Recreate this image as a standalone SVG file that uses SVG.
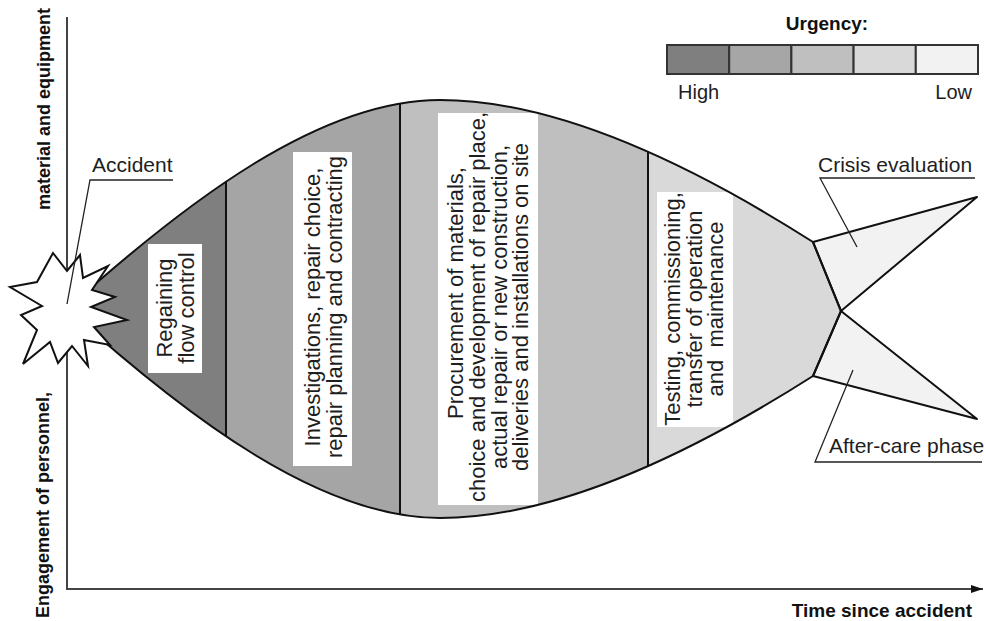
<svg xmlns="http://www.w3.org/2000/svg" width="986" height="621" viewBox="0 0 986 621">
<style>
.lbl{font-family:"Liberation Sans",Arial,sans-serif;font-size:21px;fill:#1e1e1e}
.bt{font-family:"Liberation Sans",Arial,sans-serif;font-size:22px;fill:#1e1e1e;text-anchor:middle}
.bold{font-family:"Liberation Sans",Arial,sans-serif;font-weight:bold;fill:#111}
.outline{fill:none;stroke:#111;stroke-width:2;stroke-linejoin:round}
.fin{fill:#f2f2f2;stroke:#111;stroke-width:2;stroke-linejoin:round}
.div{stroke:#111;stroke-width:2}
.leader{fill:none;stroke:#222;stroke-width:1.3}
.axis{stroke:#444;stroke-width:2;fill:none}
.box{fill:#fff}
.leg{stroke:#333;stroke-width:2}
</style>
<defs>
<path id="bodyShape" d="M67,309 C187,201 320,100 440,100 C560,100 700,170 813,242 L841,311 L813,376 C700,448 560,518 440,518 C320,518 187,417 67,309 Z"/>
<clipPath id="bodyClip"><use href="#bodyShape"/></clipPath>
<marker id="arrow" markerWidth="12" markerHeight="8" refX="12" refY="4" orient="auto" markerUnits="userSpaceOnUse"><path d="M0,0 L12,4 L0,8 Z" fill="#111"/></marker>
</defs>

<g id="axes">
<path class="axis" d="M67,17 V589 H983" marker-end="url(#arrow)"/>
<text class="bold" font-size="19" x="972" y="617" text-anchor="end">Time since accident</text>
<text class="bold" font-size="18" transform="translate(49,618) rotate(-90)">Engagement of personnel,</text>
<text class="bold" font-size="18" transform="translate(50,210) rotate(-90)">material and equipment</text>
</g>

<g id="fish-body">
<g clip-path="url(#bodyClip)">
<rect x="60" y="90" width="166" height="440" fill="#7f7f7f"/>
<rect x="226" y="90" width="174" height="440" fill="#a5a5a5"/>
<rect x="400" y="90" width="248" height="440" fill="#bfbfbf"/>
<rect x="648" y="90" width="200" height="440" fill="#d9d9d9"/>
<line class="div" x1="226" y1="90" x2="226" y2="530"/>
<line class="div" x1="400" y1="90" x2="400" y2="530"/>
<line class="div" x1="648" y1="90" x2="648" y2="530"/>
</g>
</g>

<g id="crisis-evaluation-fin"><polygon class="fin" points="813,242 977,197 841,311"/></g>
<g id="after-care-fin"><polygon class="fin" points="813,376 841,311 977,419"/></g>

<g id="phase1">
<rect class="box" x="148" y="244" width="54" height="129"/>
<g transform="translate(175,308) rotate(-90)">
<text class="bt" x="0" y="-3">Regaining</text>
<text class="bt" x="0" y="18.5">flow control</text>
</g>
</g>

<g id="phase2">
<rect class="box" x="293" y="152" width="59" height="314"/>
<g transform="translate(322,307) rotate(-90)">
<text class="bt" x="0" y="-2">Investigations, repair choice,</text>
<text class="bt" x="0" y="20">repair planning and contracting</text>
</g>
</g>

<g id="phase3">
<rect class="box" x="438" y="113" width="100" height="392"/>
<g transform="translate(488,307) rotate(-90)">
<text class="bt" x="14" y="-25">Procurement of materials,</text>
<text class="bt" x="0" y="-3">choice and development of repair place,</text>
<text class="bt" x="0" y="19">actual repair or new construction,</text>
<text class="bt" x="0" y="40">deliveries and installations on site</text>
</g>
</g>

<g id="phase4">
<rect class="box" x="657" y="192" width="76" height="235"/>
<g transform="translate(695,309) rotate(-90)">
<text class="bt" x="0" y="-15">Testing, commissioning,</text>
<text class="bt" x="0" y="7">transfer of operation</text>
<text class="bt" x="0" y="28" xml:space="preserve">and  maintenance</text>
</g>
</g>

<g id="fish-outline">
<use href="#bodyShape" class="outline"/>
</g>

<g id="accident">
<polygon fill="#fff" stroke="#111" stroke-width="2" stroke-linejoin="miter" points="53,253 67,271 80,255 83,278 108,266 92,290 115,297 91,307 127,320 94,327 110,345 84,340 88,366 72,346 58,363 50,342 23,364 37,330 21,315 42,306 10,287 37,282"/>
</g>

<g id="connectors">
<polyline class="leader" points="173,180 90,180 67,304"/>
<polyline class="leader" points="975,178 820,178 857,247"/>
<polyline class="leader" points="982,462 815,462 853,370"/>
</g>

<g id="labels">
<text class="lbl" x="92" y="172">Accident</text>
<text class="lbl" x="818" y="172">Crisis evaluation</text>
<text class="lbl" x="829" y="453">After-care phase</text>
</g>

<g id="legend">
<text class="bold" font-size="19" x="827" y="30" text-anchor="middle">Urgency:</text>
<rect class="leg" x="667" y="45" width="62.2" height="29" fill="#7f7f7f"/>
<rect class="leg" x="729.2" y="45" width="62.2" height="29" fill="#a6a6a6"/>
<rect class="leg" x="791.4" y="45" width="62.2" height="29" fill="#bfbfbf"/>
<rect class="leg" x="853.6" y="45" width="62.2" height="29" fill="#d9d9d9"/>
<rect class="leg" x="915.8" y="45" width="62.2" height="29" fill="#f2f2f2"/>
<text class="lbl" x="678" y="99" style="font-size:20px">High</text>
<text class="lbl" x="972" y="99" text-anchor="end" style="font-size:20px">Low</text>
</g>
</svg>
